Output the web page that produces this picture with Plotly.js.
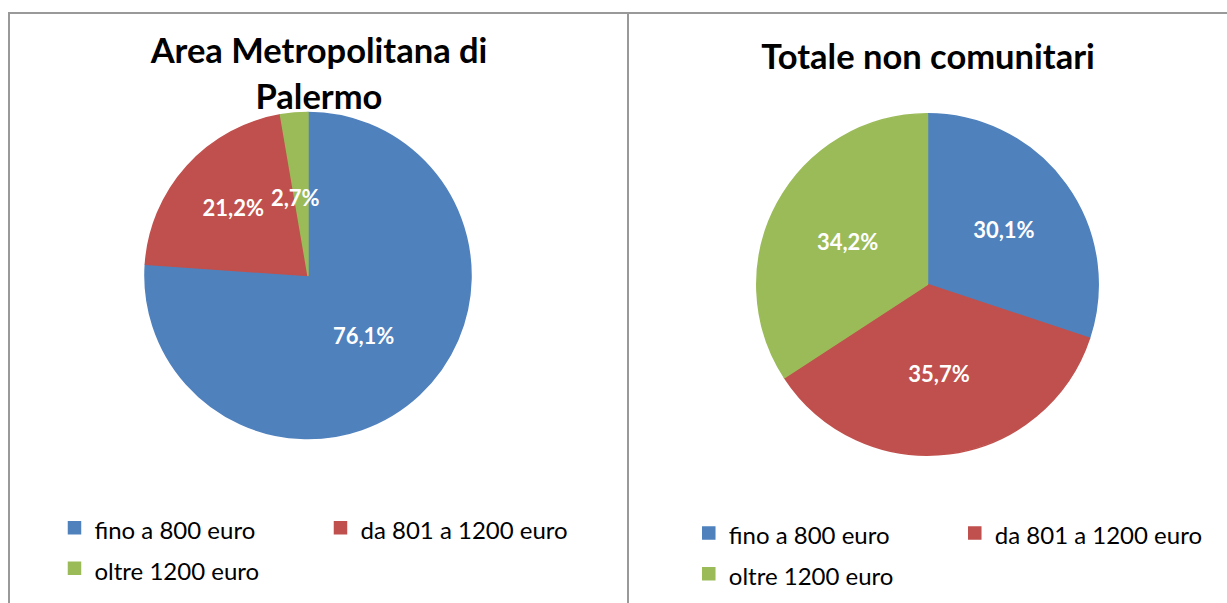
<!DOCTYPE html>
<html><head><meta charset="utf-8">
<script src="https://cdn.plot.ly/plotly-3.0.1.min.js"></script>
<style>
html,body{margin:0;padding:0;background:#fff;width:1227px;height:603px;overflow:hidden;}
#c1{position:absolute;left:10px;top:14px;width:618px;height:589px;}
#c2{position:absolute;left:629px;top:14px;width:598px;height:589px;}
#frame{position:absolute;left:8px;top:12px;width:1230px;height:600px;border-left:2px solid #999;border-top:2px solid #999;pointer-events:none;}
#sep{position:absolute;left:627px;top:12px;width:2px;height:600px;background:#999;pointer-events:none;}
</style></head><body>
<div id="c1"></div><div id="c2"></div><div id="frame"></div><div id="sep"></div>
<script>
const categories = ['fino a 800 euro', 'da 801 a 1200 euro', 'oltre 1200 euro'];
const palermoValues = [76.1, 21.2, 2.7];
const nonComunitariValues = [30.1, 35.7, 34.2];
const titleLeft = 'Area Metropolitana di<br>Palermo';
const titleRight = 'Totale non comunitari';
const sliceColors = ['#4F81BD', '#C0504D', '#9BBB59'];

const FONT = 'Lato, "Open Sans", sans-serif';
const legendLabels = categories.map(c => '<span style="font-size:24px">' + c + '</span>');

function pieTrace(values, domain) {
  // very thin slices: push the label inward (as the original "best fit" does)
  const templates = values.map(v => v < 5 ? '\u00a0<br>\u00a0<br>\u00a0<br>\u00a0<br>\u00a0<br>%{percent}' : '%{percent}');
  return {
    type: 'pie',
    labels: legendLabels,
    values: values,
    sort: false,
    direction: 'clockwise',
    rotation: 0,
    texttemplate: templates,
    textposition: 'inside',
    insidetextorientation: 'horizontal',
    textfont: {family: FONT, size: 22, color: '#ffffff', weight: 'bold'},
    marker: {colors: sliceColors, line: {color: sliceColors, width: 1.5}},
    hoverinfo: 'label+percent',
    domain: domain
  };
}

function layoutFor(title, titleY, legX, legY) {
  return {
    margin: {l: 0, r: 0, t: 0, b: 0},
    paper_bgcolor: '#ffffff',
    separators: ',.',
    font: {family: FONT, color: '#000'},
    title: {
      text: '<span style="font-size:34.5px">' + title + '</span>',
      font: {family: FONT, size: 35, color: '#000', weight: 'bold'},
      x: 0.5, xanchor: 'center', xref: 'paper',
      y: titleY, yref: 'container', yanchor: 'top'
    },
    showlegend: true,
    legend: {
      orientation: 'h',
      x: legX, xanchor: 'left',
      y: legY, yanchor: 'top',
      entrywidth: 227, entrywidthmode: 'pixels',
      indentation: -6,
      font: {family: FONT, size: 29, color: '#000'},
      traceorder: 'normal'
    },
    uniformtext: {mode: 'show', minsize: 22}
  };
}

Plotly.newPlot('c1', [pieTrace(palermoValues, {x: [0.2184, 0.7460], y: [0.279, 0.833]})],
  Object.assign(layoutFor(titleLeft, 1 - 49 / 589, 0.0817, 0.171), {width: 618, height: 589}),
  {displayModeBar: false});

Plotly.newPlot('c2', [pieTrace(nonComunitariValues, {x: [0.2137, 0.7846], y: [0.25, 0.8316]})],
  Object.assign(layoutFor(titleRight, 1 - 30 / 589, 0.110, 0.162), {width: 598, height: 589}),
  {displayModeBar: false});
</script>
</body></html>
